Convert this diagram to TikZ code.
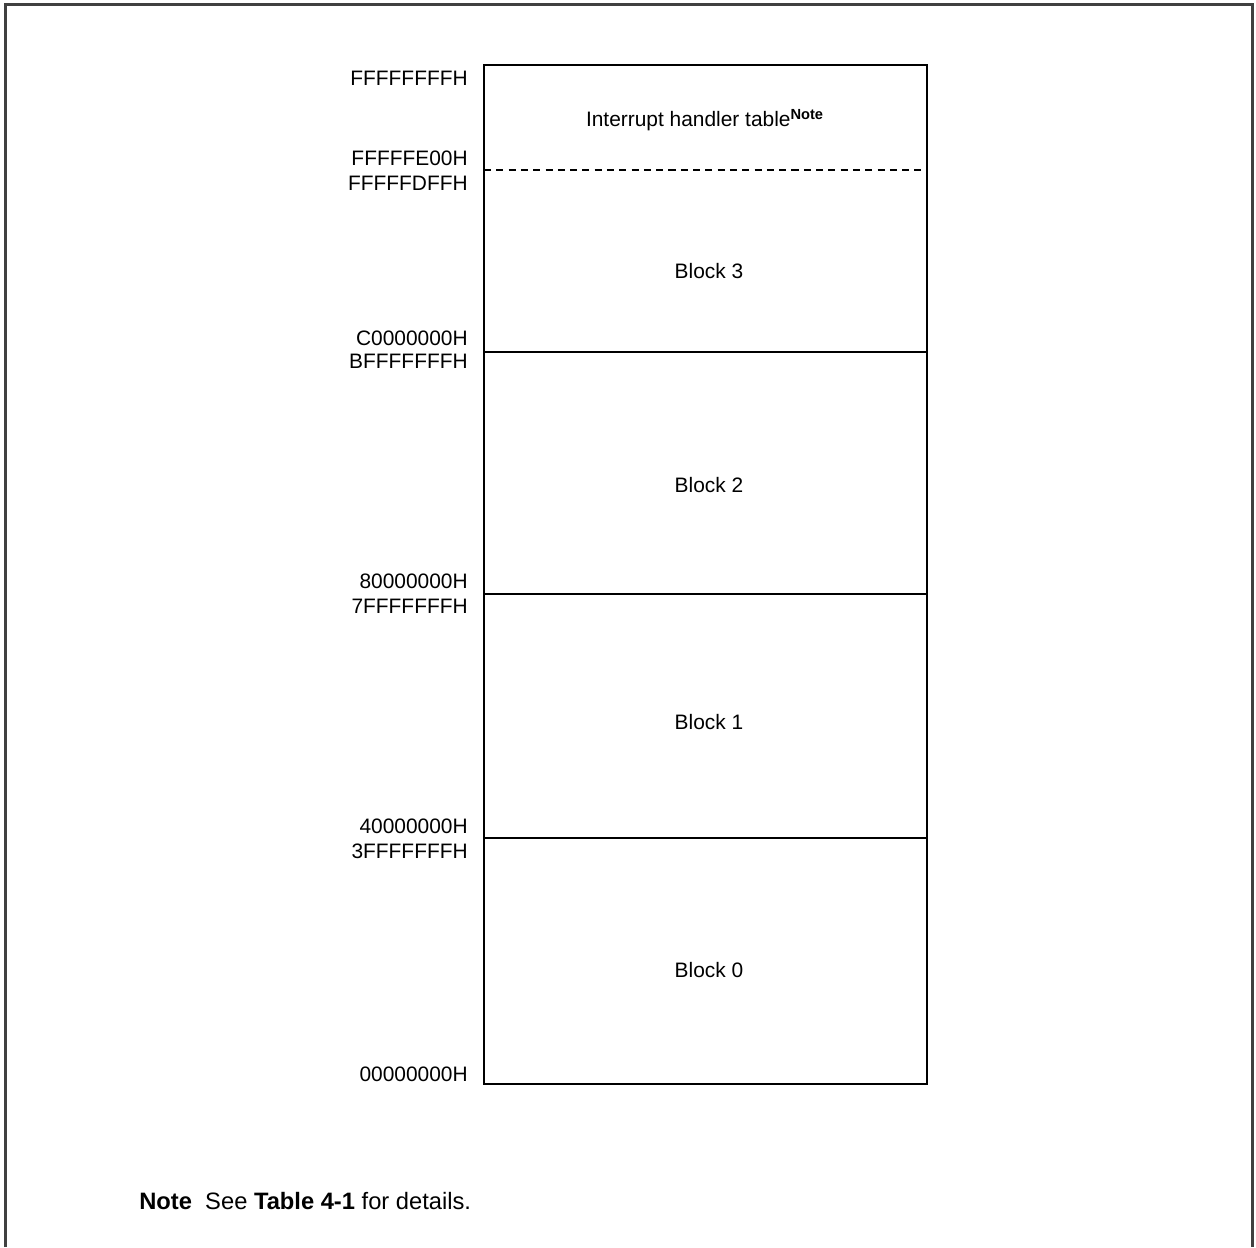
\documentclass[tikz,border=0pt]{standalone}
\usepackage{fontspec}
\setmainfont{Liberation Sans}
\usepackage{tikz}
\usetikzlibrary{positioning}

\tikzset{
  addr/.style={anchor=east, inner sep=0pt, font=\fontsize{11.9}{14}\selectfont},
  blocktext/.style={inner sep=0pt, font=\fontsize{11.9}{14}\selectfont},
  notetext/.style={inner sep=0pt, anchor=west, font=\fontsize{13.5}{16}\selectfont},
  divider/.style={line width=0.6pt},
}

\begin{document}
\begin{tikzpicture}[x=0.02cm, y=-0.02cm] % one unit per reference pixel
  \useasboundingbox (0,0) rectangle (1256,1247);

  % 1. Outer frame (open at the bottom)
  \draw[line width=1.4pt, black!75] (5.5,1247) -- (5.5,4.5) -- (1252.5,4.5) -- (1252.5,1247);

  % 2. Memory block
  \draw[line width=1.1pt] (484,65) rectangle (927,1084);
  \draw[divider, dash pattern=on 4pt off 3pt] (484,170) -- (927,170);
  \draw[divider] (484,352) -- (927,352);
  \draw[divider] (484,594) -- (927,594);
  \draw[divider] (484,838) -- (927,838);

  % 3. Region names
  \node[blocktext] (iht) at (705,120) {Interrupt handler table\textsuperscript{\textbf{Note}}};
  \node[blocktext] (blk3) at (709,271) {Block 3};
  \node[blocktext] (blk2) at (709,485) {Block 2};
  \node[blocktext] (blk1) at (709,722) {Block 1};
  \node[blocktext] (blk0) at (709,970) {Block 0};

  % 4. Addresses
  \node[addr] (aTop)  at (468,78)   {FFFFFFFFH};
  \node[addr] (aE00)  at (468,158)  {FFFFFE00H};
  \node[addr] (aDFF)  at (468,183)  {FFFFFDFFH};
  \node[addr] (aC0)   at (468,338)  {C0000000H};
  \node[addr] (aBF)   at (468,361)  {BFFFFFFFH};
  \node[addr] (a80)   at (468,581)  {80000000H};
  \node[addr] (a7F)   at (468,606)  {7FFFFFFFH};
  \node[addr] (a40)   at (468,826)  {40000000H};
  \node[addr] (a3F)   at (468,851)  {3FFFFFFFH};
  \node[addr] (aZero) at (468,1074) {00000000H};

  % 5. Footnote
  \node[notetext] (note) at (139,1201)
    {\textbf{Note}\ \ See \textbf{Table 4-1} for details.};
\end{tikzpicture}
\end{document}
